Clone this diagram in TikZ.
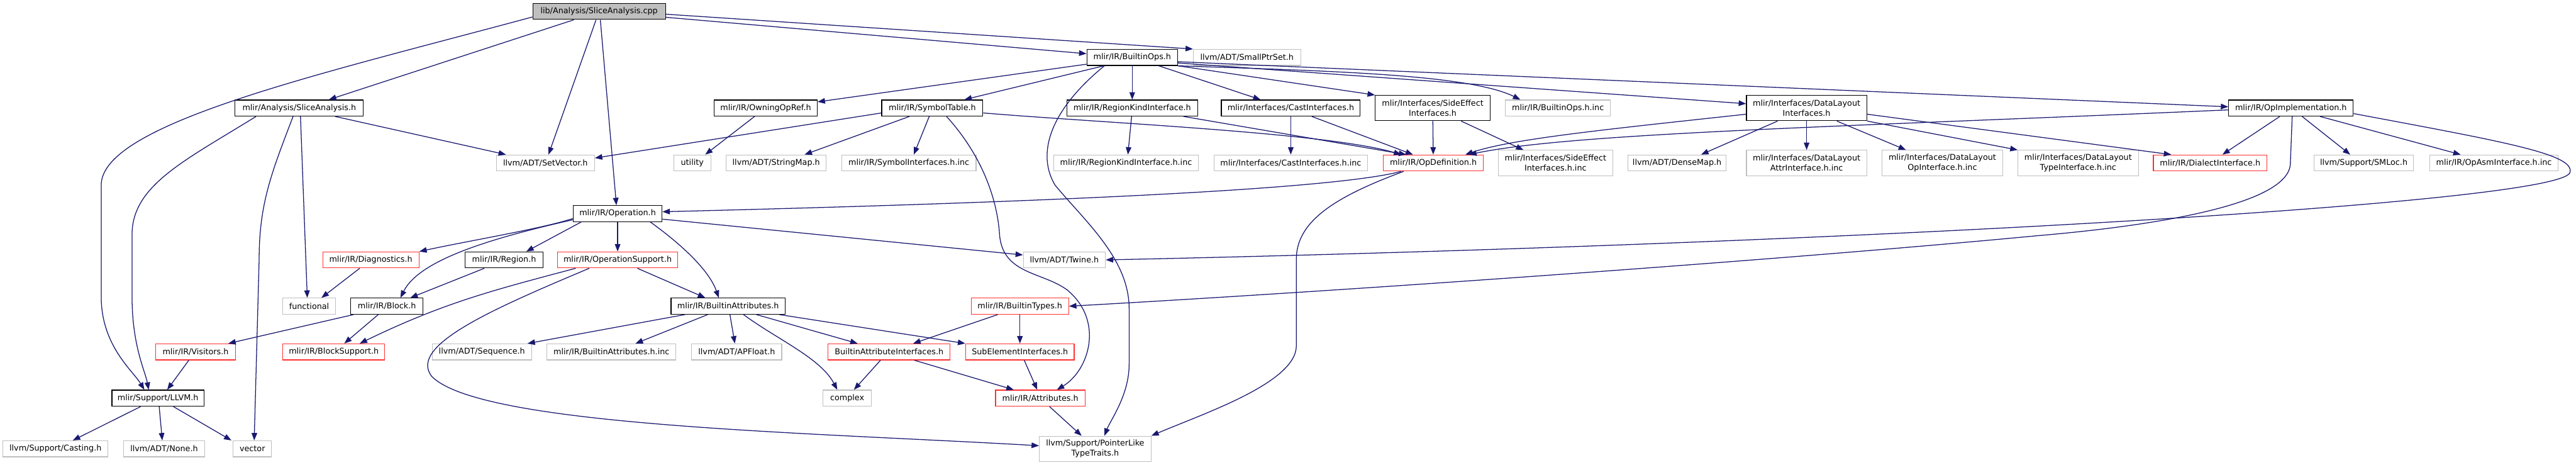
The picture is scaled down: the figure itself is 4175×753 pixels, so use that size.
\documentclass[tikz,border=0pt]{standalone}
\usepackage{fontspec}
\setmainfont{DejaVu Sans}
\usetikzlibrary{arrows.meta}
\definecolor{depblue}{HTML}{191970}
\definecolor{extgray}{HTML}{BFBFBF}
\definecolor{badred}{HTML}{FF3030}

\begin{document}
\begin{tikzpicture}[x=1pt, y=-1pt, >={Triangle[length=12pt, width=9pt]},
  file/.style={draw, line width=1.2pt, inner sep=0pt, minimum height=26, align=center,
    font=\fontsize{13}{16}\selectfont},
  doc/.style={file, draw=black},
  ext/.style={file, draw=extgray},
  bad/.style={file, draw=badred},
  root/.style={doc, fill=extgray},
  tall/.style={minimum height=41},
  dep/.style={->, draw=depblue, line width=1.3pt}]
  \useasboundingbox (0,0) rectangle (4175,753);
  % ===== Nodos =====
  \node[root, minimum width=215] (cpp) at (971,18.5) {lib/Analysis/SliceAnalysis.cpp};
  \node[doc, minimum width=147] (bops) at (1835,93) {mlir/IR/BuiltinOps.h};
  \node[ext, minimum width=174] (sptr) at (2021,93) {llvm/ADT/SmallPtrSet.h};
  % fila 2
  \node[doc, minimum width=208] (sah) at (485,175) {mlir/Analysis/SliceAnalysis.h};
  \node[doc, minimum width=167] (oref) at (1241,175) {mlir/IR/OwningOpRef.h};
  \node[doc, minimum width=164] (symt) at (1511,175) {mlir/IR/SymbolTable.h};
  \node[doc, minimum width=212] (rki) at (1835,175) {mlir/IR/RegionKindInterface.h};
  \node[doc, minimum width=225] (cast) at (2092,175) {mlir/Interfaces/CastInterfaces.h};
  \node[doc, tall, minimum width=186] (sei) at (2322,175) {mlir/Interfaces/SideEffect\\Interfaces.h};
  \node[ext, minimum width=170] (bopsinc) at (2525,175) {mlir/IR/BuiltinOps.h.inc};
  \node[doc, tall, minimum width=195] (dli) at (2928,175) {mlir/Interfaces/DataLayout\\Interfaces.h};
  \node[doc, minimum width=202] (oimpl) at (3713,175) {mlir/IR/OpImplementation.h};
  % fila 3
  \node[ext, minimum width=159] (setv) at (884,264) {llvm/ADT/SetVector.h};
  \node[ext, minimum width=60] (util) at (1122,264) {utility};
  \node[ext, minimum width=162] (smap) at (1258,264) {llvm/ADT/StringMap.h};
  \node[ext, minimum width=218] (syminc) at (1473,264) {mlir/IR/SymbolInterfaces.h.inc};
  \node[ext, minimum width=234] (rkiinc) at (1825,264) {mlir/IR/RegionKindInterface.h.inc};
  \node[ext, minimum width=249] (castinc) at (2092,264) {mlir/Interfaces/CastInterfaces.h.inc};
  \node[bad, minimum width=162] (opdef) at (2323,264) {mlir/IR/OpDefinition.h};
  \node[ext, tall, minimum width=186] (seiinc) at (2521,264) {mlir/Interfaces/SideEffect\\Interfaces.h.inc};
  \node[ext, minimum width=159] (dmap) at (2718,264) {llvm/ADT/DenseMap.h};
  \node[ext, tall, minimum width=195] (dlattr) at (2928,264) {mlir/Interfaces/DataLayout\\AttrInterface.h.inc};
  \node[ext, tall, minimum width=195] (dlop) at (3148,264) {mlir/Interfaces/DataLayout\\OpInterface.h.inc};
  \node[ext, tall, minimum width=196] (dltype) at (3368,264) {mlir/Interfaces/DataLayout\\TypeInterface.h.inc};
  \node[bad, minimum width=184] (dint) at (3582,264) {mlir/IR/DialectInterface.h};
  \node[ext, minimum width=161] (smloc) at (3831,264) {llvm/Support/SMLoc.h};
  \node[ext, minimum width=208] (asminc) at (4042,264) {mlir/IR/OpAsmInterface.h.inc};
  % filas 4 a 9
  \node[doc, minimum width=144] (op) at (1001,346) {mlir/IR/Operation.h};
  \node[bad, minimum width=156] (diag) at (601,421) {mlir/IR/Diagnostics.h};
  \node[doc, minimum width=126] (region) at (817,421) {mlir/IR/Region.h};
  \node[bad, minimum width=194] (opsup) at (1001,421) {mlir/IR/OperationSupport.h};
  \node[ext, minimum width=133] (twine) at (1725,421) {llvm/ADT/Twine.h};
  \node[ext, minimum width=86] (func) at (501,496) {functional};
  \node[doc, minimum width=117] (block) at (627,496) {mlir/IR/Block.h};
  \node[doc, minimum width=185] (battr) at (1180,496) {mlir/IR/BuiltinAttributes.h};
  \node[bad, minimum width=158] (btypes) at (1653,496) {mlir/IR/BuiltinTypes.h};
  \node[bad, minimum width=130] (visit) at (317,570) {mlir/IR/Visitors.h};
  \node[bad, minimum width=165] (bsup) at (541,570) {mlir/IR/BlockSupport.h};
  \node[ext, minimum width=161] (seq) at (781,570) {llvm/ADT/Sequence.h};
  \node[ext, minimum width=209] (battrinc) at (991,570) {mlir/IR/BuiltinAttributes.h.inc};
  \node[ext, minimum width=146] (apf) at (1194,570) {llvm/ADT/APFloat.h};
  \node[bad, minimum width=198] (bai) at (1441,570) {BuiltinAttributeInterfaces.h};
  \node[bad, minimum width=176] (subel) at (1653,570) {SubElementInterfaces.h};
  \node[doc, minimum width=149] (llvm) at (256,645) {mlir/Support/LLVM.h};
  \node[ext, minimum width=78] (cplx) at (1373,645) {complex};
  \node[bad, minimum width=145] (attrs) at (1686,645) {mlir/IR/Attributes.h};
  \node[ext, minimum width=170] (casting) at (90,727) {llvm/Support/Casting.h};
  \node[ext, minimum width=131] (none) at (266,727) {llvm/ADT/None.h};
  \node[ext, minimum width=62] (vec) at (409,727) {vector};
  \node[ext, tall, minimum width=181] (plt) at (1775,727) {llvm/Support/PointerLike\\TypeTraits.h};

  % ===== Dependencias de SliceAnalysis.cpp =====
  \draw[dep] ([yshift=-9pt]cpp.west) .. controls (520,120) and (164,200) .. (164,300)
    -- (164,480) .. controls (164,560) and (215,600) .. ([xshift=-22pt]llvm.north);
  \draw[dep] ([xshift=-41pt]cpp.south) -- ([xshift=48pt]sah.north);
  \draw[dep] ([xshift=-5pt]cpp.south) -- ([xshift=5pt]setv.north);
  \draw[dep] ([xshift=2pt]cpp.south) -- ([xshift=-2pt]op.north);
  \draw[dep] ([yshift=-9.5pt]cpp.east) -- ([yshift=6pt]bops.west);
  \draw[dep] ([yshift=-4.5pt]cpp.east) -- (sptr.north west);

  % ===== SliceAnalysis.h =====
  \draw[dep] ([xshift=-70pt]sah.south) .. controls (300,260) and (214,300) .. (214,380)
    -- (214,480) .. controls (214,560) and (235,600) .. ([xshift=-15pt]llvm.north);
  \draw[dep] ([xshift=-10pt]sah.south) .. controls (440,280) and (420,330) .. (420,420)
    -- ([xshift=3pt]vec.north);
  \draw[dep] ([xshift=2pt]sah.south) -- ([xshift=-3pt]func.north);
  \draw[dep] ([xshift=58pt]sah.south) -- ([xshift=-64pt]setv.north);
  \draw[dep] ([xshift=-18pt]oref.south) -- ([xshift=21pt]util.north);

  % ===== BuiltinOps.h =====
  \draw[dep] ([yshift=-11pt]bops.west) -- ([yshift=10pt]oref.east);
  \draw[dep] ([xshift=-46pt]bops.south) -- ([xshift=52pt]symt.north);
  \draw[dep] ([xshift=-45pt]bops.south) .. controls (1700,180) and (1680,250) .. (1710,300)
    .. controls (1760,360) and (1830,420) .. (1830,500) -- (1830,590)
    .. controls (1830,640) and (1800,680) .. ([xshift=15pt]plt.north);
  \draw[dep] (bops) -- (rki);
  \draw[dep] ([xshift=43pt]bops.south) -- ([xshift=-49pt]cast.north);
  \draw[dep] (bops.south east) -- (sei.north west);
  \draw[dep] (bops.south east) .. controls (2150,115) and (2380,120) .. ([xshift=-61pt]bopsinc.north);
  \draw[dep] ([yshift=-9pt]bops.east) -- ([yshift=7pt]dli.west);
  \draw[dep] ([yshift=-7pt]bops.east) -- ([yshift=2pt]oimpl.west);

  % ===== SymbolTable.h =====
  \draw[dep] ([yshift=-8pt]symt.west) -- ([yshift=8pt]setv.east);
  \draw[dep] ([xshift=-37pt]symt.south) -- ([xshift=46pt]smap.north);
  \draw[dep] ([xshift=-5pt]symt.south) -- ([xshift=8pt]syminc.north);
  \draw[dep] ([xshift=23pt]symt.south) .. controls (1590,250) and (1616,320) .. (1620,380)
    .. controls (1625,445) and (1690,440) .. (1730,470)
    .. controls (1790,520) and (1765,600) .. ([xshift=27pt]attrs.north);
  \draw[dep] ([yshift=-8pt]symt.east) .. controls (1800,200) and (2150,215) .. ([xshift=-52pt]opdef.north);

  % ===== Interfaces =====
  \draw[dep] ([xshift=-1pt]rki.south) -- ([xshift=3pt]rkiinc.north);
  \draw[dep] ([xshift=83pt]rki.south) -- ([xshift=-44pt]opdef.north);
  \draw[dep] (cast) -- (castinc);
  \draw[dep] ([xshift=34pt]cast.south) -- ([xshift=-33pt]opdef.north);
  \draw[dep] (sei) -- (opdef);
  \draw[dep] ([xshift=46pt]sei.south) -- ([xshift=-52pt]seiinc.north);
  \draw[dep] ([yshift=-10pt]dli.west) .. controls (2600,210) and (2450,225) .. ([xshift=52pt]opdef.north);
  \draw[dep] ([xshift=-47pt]dli.south) -- ([xshift=39pt]dmap.north);
  \draw[dep] (dli) -- (dlattr);
  \draw[dep] ([xshift=49pt]dli.south) -- ([xshift=-59pt]dlop.north);
  \draw[dep] (dli.south east) -- ([xshift=-98pt]dltype.north);
  \draw[dep] ([yshift=-10pt]dli.east) -- ([xshift=-63pt]dint.north);

  % ===== OpImplementation.h =====
  \draw[dep] ([yshift=-3pt]oimpl.west) .. controls (3000,205) and (2550,215) .. ([xshift=58pt]opdef.north);
  \draw[dep] ([xshift=-18pt]oimpl.south) -- ([xshift=20pt]dint.north);
  \draw[dep] ([xshift=18pt]oimpl.south) -- ([xshift=-22pt]smloc.north);
  \draw[dep] ([xshift=47pt]oimpl.south) -- ([xshift=-54pt]asminc.north);
  \draw[dep] ([xshift=2pt]oimpl.south) -- (3712,265) .. controls (3710,330) and (3500,365) .. (3300,382)
    .. controls (2900,420) and (2200,470) .. (btypes.east);
  \draw[dep] ([yshift=-9pt]oimpl.east) .. controls (4060,230) and (4175,250) .. (4165,280)
    .. controls (4140,330) and (3000,395) .. (twine.east);

  % ===== OpDefinition.h =====
  \draw[dep] ([xshift=-52pt]opdef.south) .. controls (2150,310) and (1600,330) .. ([yshift=3pt]op.east);
  \draw[dep] ([xshift=-48pt]opdef.south) .. controls (2160,320) and (2101,360) .. (2101,420)
    -- (2101,560) .. controls (2101,620) and (1950,670) .. (plt.north east);

  % ===== Operation.h =====
  \draw[dep] ([yshift=-8pt]op.west) .. controls (880,370) and (760,390) .. (diag.north east);
  \draw[dep] ([yshift=-10pt]op.west) .. controls (800,385) and (680,420) .. ([xshift=22pt]block.north);
  \draw[dep] ([xshift=-59pt]op.south) -- ([xshift=36pt]region.north);
  \draw[dep] (op) -- (opsup);
  \draw[dep] ([xshift=53pt]op.south) .. controls (1110,400) and (1150,440) .. ([xshift=-15pt]battr.north);
  \draw[dep] ([yshift=-9pt]op.east) -- ([yshift=8pt]twine.west);

  \draw[dep] ([xshift=-18pt]diag.south) -- ([xshift=20pt]func.north);
  \draw[dep] ([xshift=-32pt]region.south) -- ([xshift=38pt]block.north);
  \draw[dep] ([xshift=-68pt]opsup.south) .. controls (800,470) and (720,490) .. ([xshift=42pt]bsup.north);
  \draw[dep] ([xshift=-46pt]opsup.south) .. controls (800,500) and (660,560) .. (700,610)
    .. controls (780,690) and (1300,700) .. ([yshift=5pt]plt.west);
  \draw[dep] ([xshift=32pt]opsup.south) -- ([xshift=-37pt]battr.north);

  % ===== Block.h, BuiltinAttributes.h, BuiltinTypes.h =====
  \draw[dep] ([xshift=-54pt]block.south) -- ([xshift=53pt]visit.north);
  \draw[dep] ([xshift=-14pt]block.south) -- ([xshift=17pt]bsup.north);
  \draw[dep] ([xshift=-11pt]visit.south) -- ([xshift=15pt]llvm.north);
  \draw[dep] ([xshift=-70pt]battr.south) -- ([xshift=74pt]seq.north);
  \draw[dep] ([xshift=-33pt]battr.south) -- ([xshift=39pt]battrinc.north);
  \draw[dep] ([xshift=3pt]battr.south) -- ([xshift=-3pt]apf.north);
  \draw[dep] ([xshift=46pt]battr.south) -- ([xshift=-51pt]bai.north);
  \draw[dep] ([xshift=83pt]battr.south) -- (subel.north west);
  \draw[dep] ([xshift=25pt]battr.south) .. controls (1260,550) and (1330,580) .. ([xshift=-16pt]cplx.north);
  \draw[dep] ([xshift=-14pt]bai.south) -- ([xshift=11pt]cplx.north);
  \draw[dep] ([xshift=41pt]bai.south) -- ([xshift=-43pt]attrs.north);
  \draw[dep] ([xshift=-36pt]btypes.south) -- ([xshift=39pt]bai.north);
  \draw[dep] (btypes) -- (subel);
  \draw[dep] ([xshift=7pt]subel.south) -- ([xshift=-5pt]attrs.north);
  \draw[dep] ([xshift=15pt]attrs.south) -- ([xshift=-22pt]plt.north);

  % ===== LLVM.h =====
  \draw[dep] ([xshift=-28pt]llvm.south) -- ([xshift=28pt]casting.north);
  \draw[dep] ([xshift=2pt]llvm.south) -- ([xshift=-3pt]none.north);
  \draw[dep] ([xshift=25pt]llvm.south) -- ([xshift=-34pt]vec.north);
\end{tikzpicture}
\end{document}
